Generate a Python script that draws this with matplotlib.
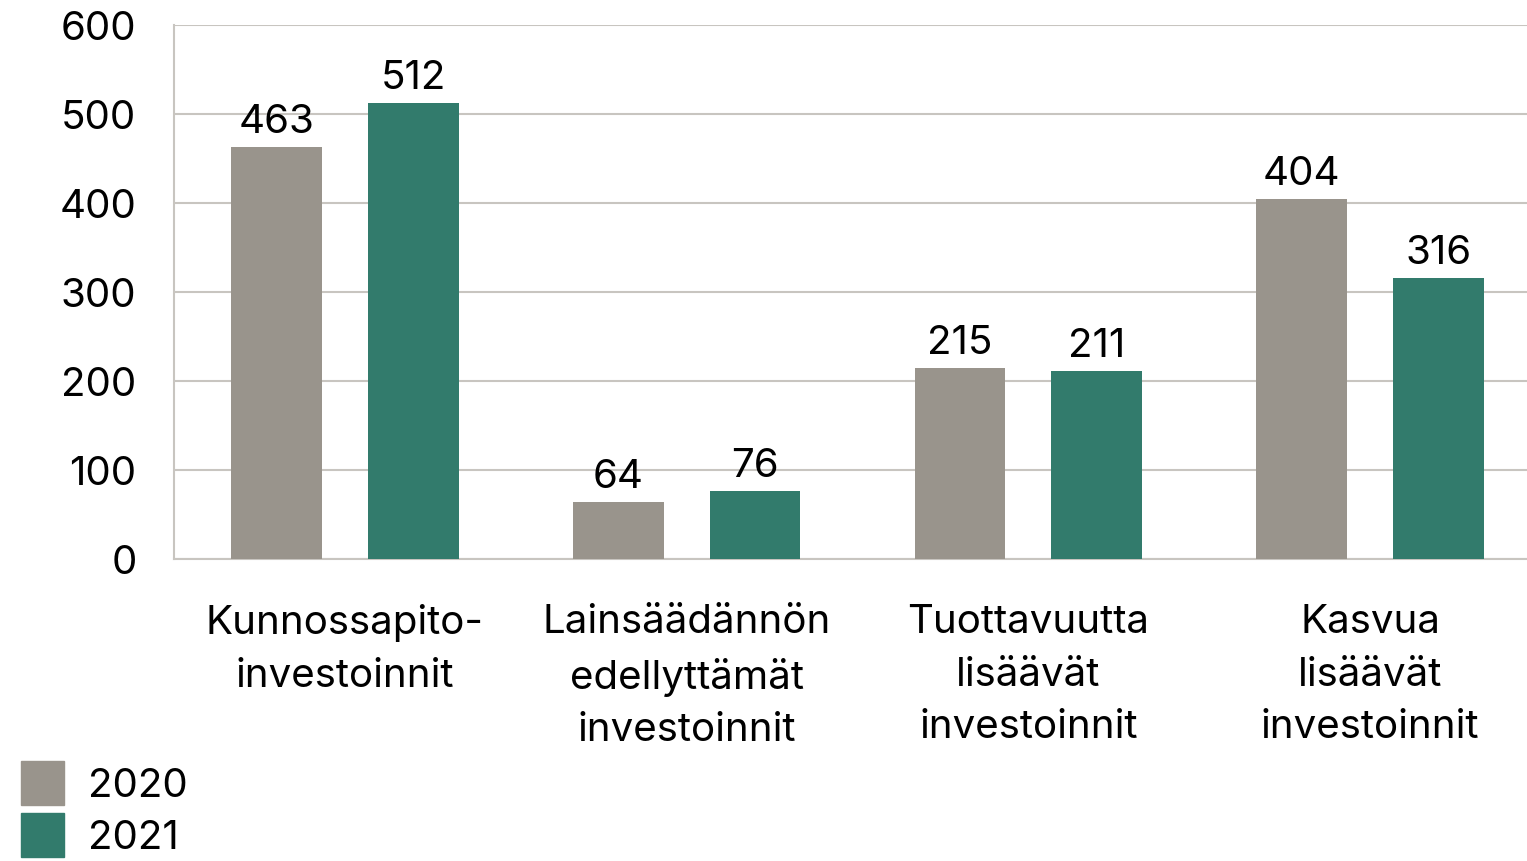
import matplotlib
matplotlib.use('agg')
import matplotlib.pyplot as plt
from matplotlib.patches import Patch
import numpy as np

categories = ['Kunnossapito-\ninvestoinnit', 'Lainsäädännön\nedellyttämät\ninvestoinnit',
              'Tuottavuutta\nlisäävät\ninvestoinnit', 'Kasvua\nlisäävät\ninvestoinnit']
years = ['2020', '2021']
values_2020 = [463, 64, 215, 404]
values_2021 = [512, 76, 211, 316]
yticks = [0, 100, 200, 300, 400, 500, 600]

gray = '#99948c'
green = '#327b6c'
grid_col = '#c8c5c0'

plt.rcParams['font.family'] = ['Inter', 'DejaVu Sans']
fs = 29

fig = plt.figure(figsize=(15.27, 8.62), dpi=100)
ax = fig.add_axes([174 / 1527, 1 - 560 / 862, 1367 / 1527, 534 / 862])

x = np.arange(len(categories))
w = 0.266
b1 = ax.bar(x - 0.2, values_2020, w, color=gray, zorder=3)
b2 = ax.bar(x + 0.2, values_2021, w, color=green, zorder=3)
ax.bar_label(b1, fontsize=fs, padding=5)
ax.bar_label(b2, fontsize=fs, padding=5)

ax.set_xlim(-0.5, 3.5)
ax.set_ylim(0, 600)
ax.set_yticks(yticks)
ax.set_yticklabels([str(t) for t in yticks], fontsize=fs)
ax.set_xticks(x)
ax.set_xticklabels(categories, fontsize=fs, linespacing=1.52)
ax.tick_params(axis='both', length=0)
ax.tick_params(axis='y', pad=27)
ax.tick_params(axis='x', pad=32)
ax.grid(axis='y', color=grid_col, linewidth=1.5, zorder=0)
for s in ['top', 'right']:
    ax.spines[s].set_visible(False)
for s in ['left', 'bottom']:
    ax.spines[s].set_color(grid_col)
    ax.spines[s].set_linewidth(1.5)

handles = [Patch(color=gray, label=years[0]), Patch(color=green, label=years[1])]
fig.legend(handles=handles, loc='upper left', bbox_to_anchor=(0.0138, 0.116),
           frameon=False, fontsize=fs, handlelength=1.07, handleheight=1.3,
           handletextpad=0.6, labelspacing=0.2, borderpad=0, borderaxespad=0)

fig.savefig('out.png', dpi=100)
